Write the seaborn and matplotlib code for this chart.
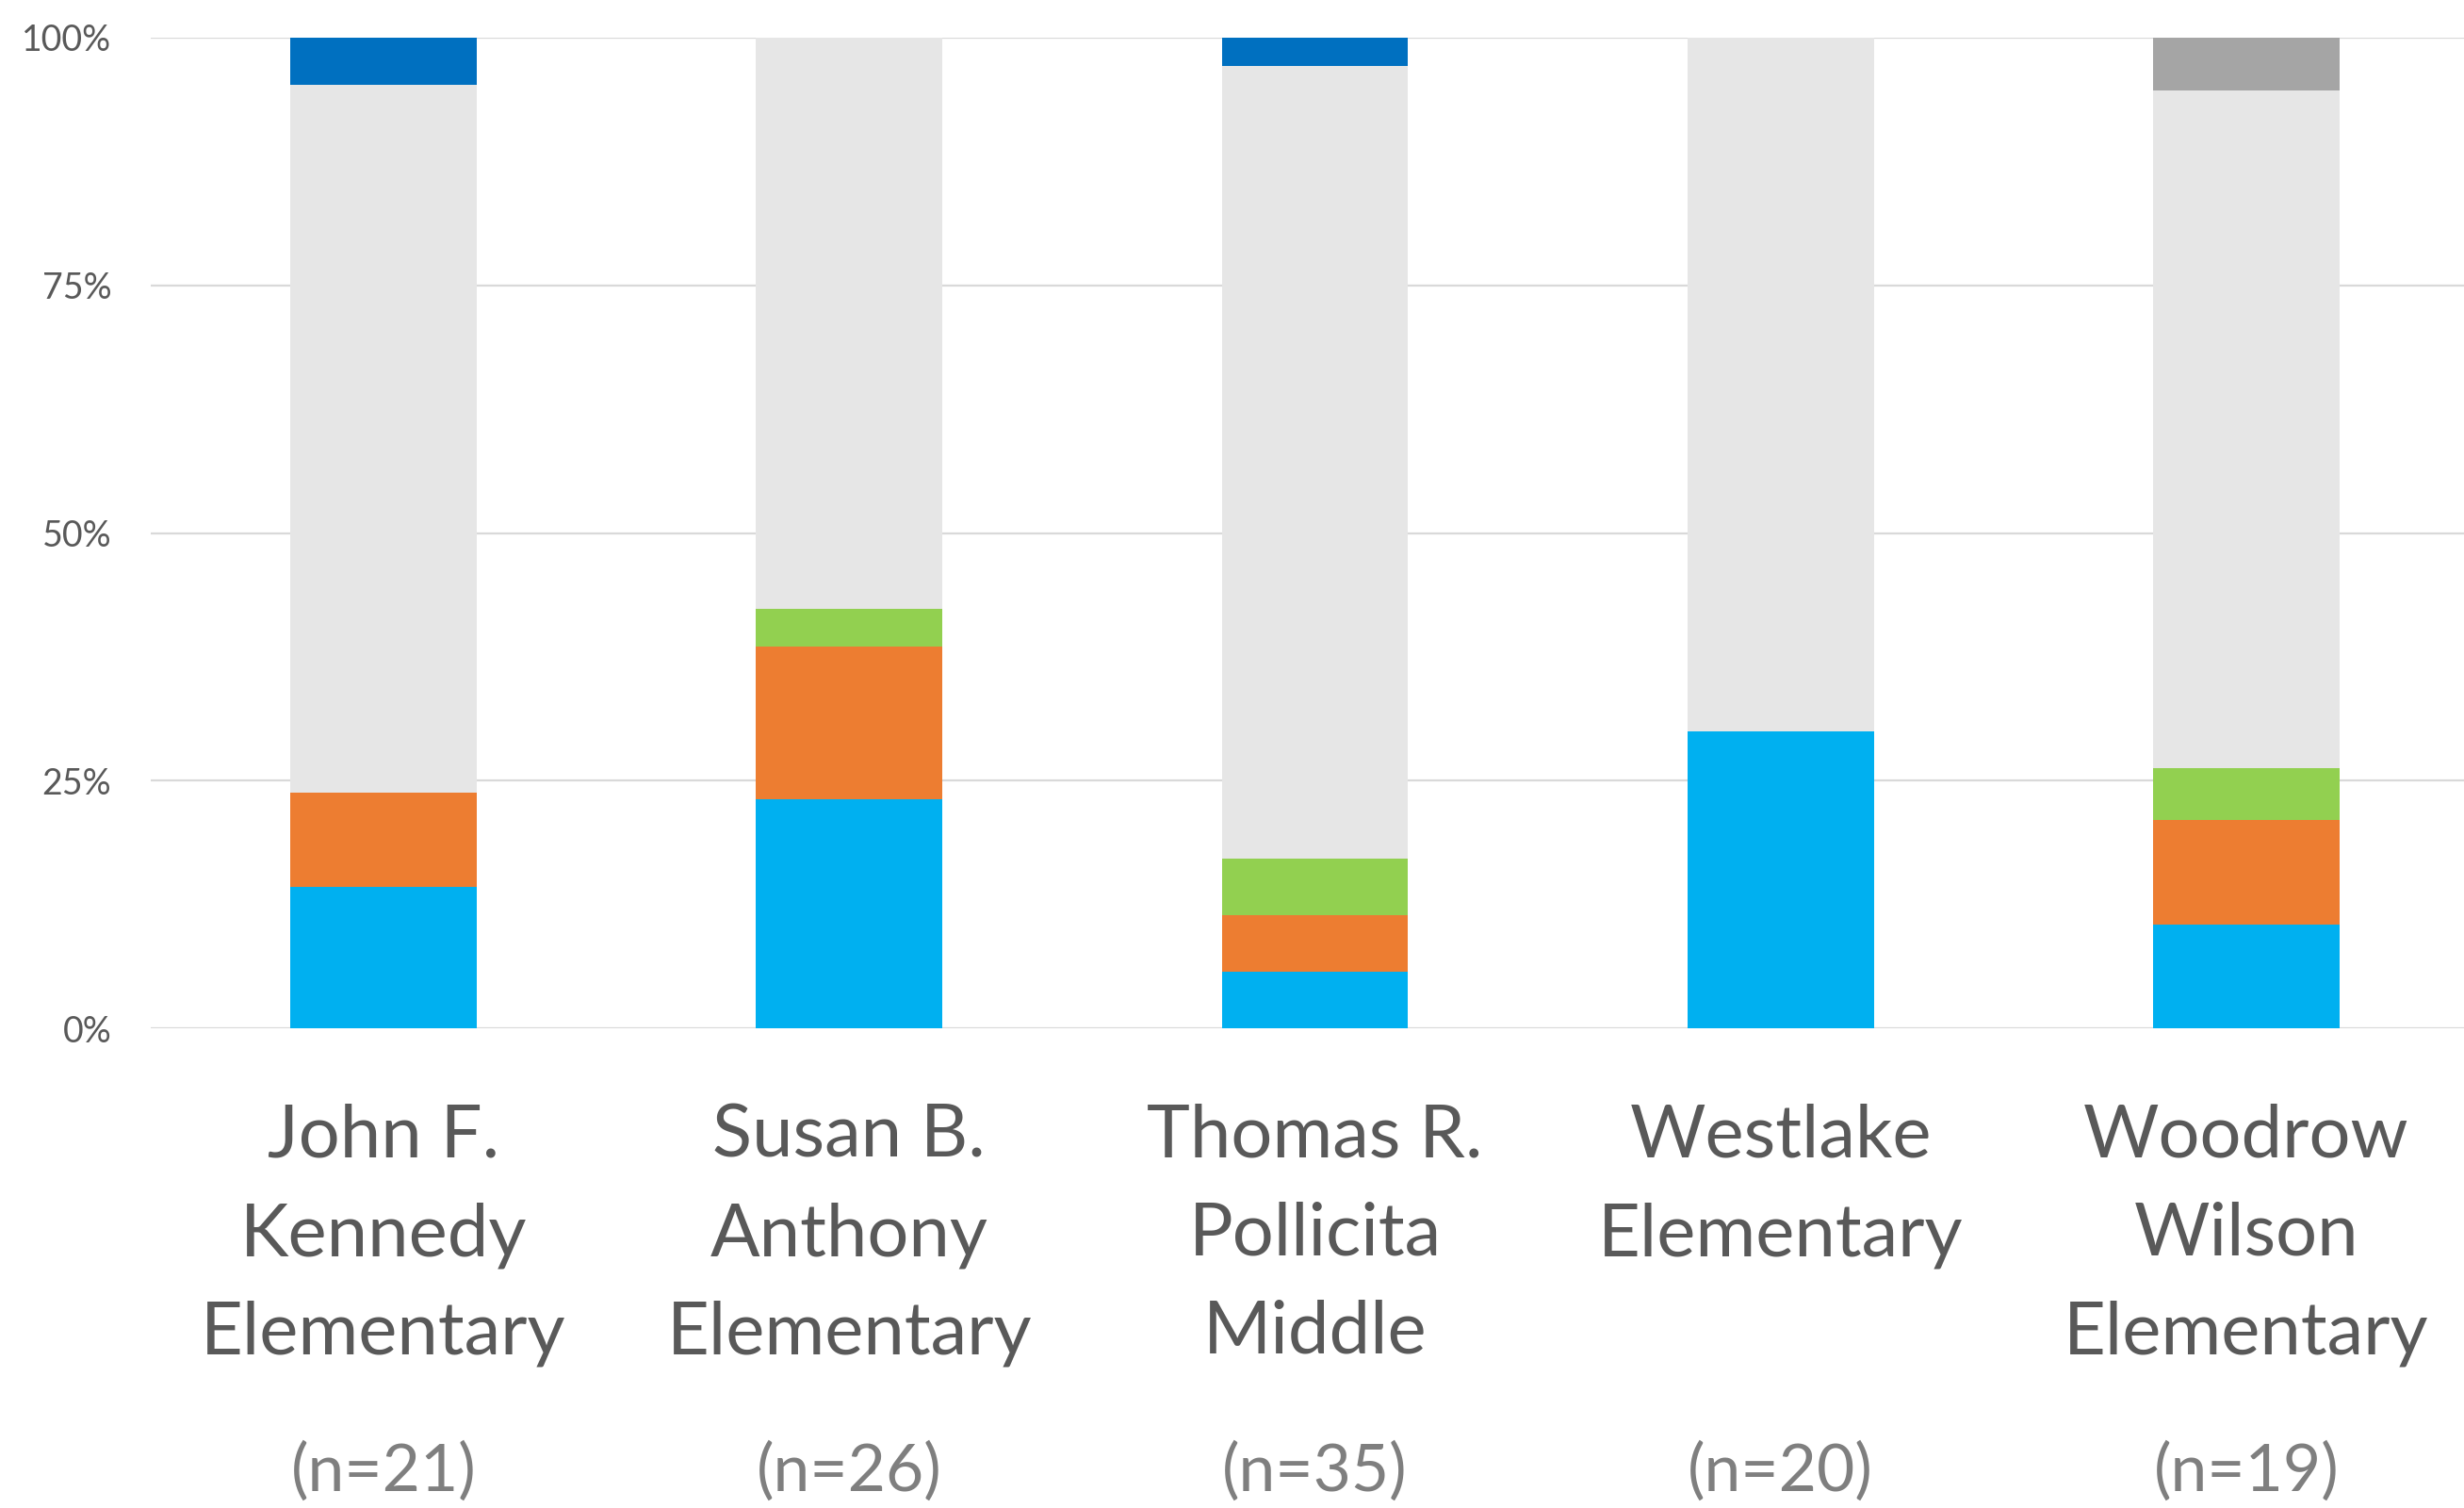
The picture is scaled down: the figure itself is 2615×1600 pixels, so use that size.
import matplotlib
matplotlib.use("Agg")
import matplotlib.pyplot as plt
import matplotlib.transforms as mtransforms
import seaborn as sns
import numpy as np

# ---- data ----
schools = ["John F.\nKennedy\nElementary", "Susan B.\nAnthony\nElementary",
           "Thomas R.\nPollicita\nMiddle", "Westlake\nElementary",
           "Woodrow\nWilson\nElementary"]
n_labels = ["(n=21)", "(n=26)", "(n=35)", "(n=20)", "(n=19)"]
seg_blue = [14.3, 23.1, 5.7, 30.0, 10.5]
seg_orange = [9.5, 15.4, 5.7, 0.0, 10.5]
seg_green = [0.0, 3.8, 5.7, 0.0, 5.3]
seg_lightgray = [71.4, 57.7, 80.0, 70.0, 68.4]
seg_darkblue = [4.8, 0.0, 2.9, 0.0, 0.0]
seg_gray = [0.0, 0.0, 0.0, 0.0, 5.3]
yticks = [0, 25, 50, 75, 100]
ytick_labels = ["0%", "25%", "50%", "75%", "100%"]

series = [seg_blue, seg_orange, seg_green, seg_lightgray, seg_darkblue, seg_gray]
colors = ["#00B0F0", "#ED7D31", "#92D050", "#E6E6E6", "#0070C0", "#A5A5A5"]

sns.set_theme(style="white")
plt.rcParams['font.family'] = ['Lato', 'DejaVu Sans']

fig = plt.figure(figsize=(26.15, 16), dpi=100)
ax = fig.add_axes([160/2615, 509/1600, 2471/2615, 1051/1600])

keys = [s.replace("\n", " ") for s in schools]
cum = np.cumsum(np.array(series, dtype=float), axis=0)
for i in range(len(series) - 1, -1, -1):
    sns.barplot(x=keys, y=cum[i], color=colors[i], width=0.4, saturation=1,
                linewidth=0, ax=ax, zorder=3)

ax.set_xlim(-0.5, 4.5)
ax.set_ylim(0, 100)
ax.set_yticks(yticks)
ax.set_yticklabels(ytick_labels, fontsize=27, color="#595959")
ax.tick_params(axis="y", length=0, pad=30)
ax.set_xticks([])
ax.set_xlabel("")
ax.set_ylabel("")
for s in ax.spines.values():
    s.set_visible(False)
ax.grid(axis="y", color="#D9D9D9", linewidth=1.6, zorder=0)
ax.set_axisbelow(True)

trans = mtransforms.blended_transform_factory(ax.transData, fig.transFigure)
baselines = [1227, 1332, 1436]
for i, name in enumerate(schools):
    for j, line in enumerate(name.split("\n")):
        ax.text(i, 1 - baselines[j] / 1600, line, transform=trans, ha="center",
                va="baseline", fontsize=56, color="#595959")
    ax.text(i, 1 - 1582 / 1600, n_labels[i], transform=trans, ha="center",
            va="baseline", fontsize=50, color="#7F7F7F")

fig.savefig("out.png", dpi=100)
